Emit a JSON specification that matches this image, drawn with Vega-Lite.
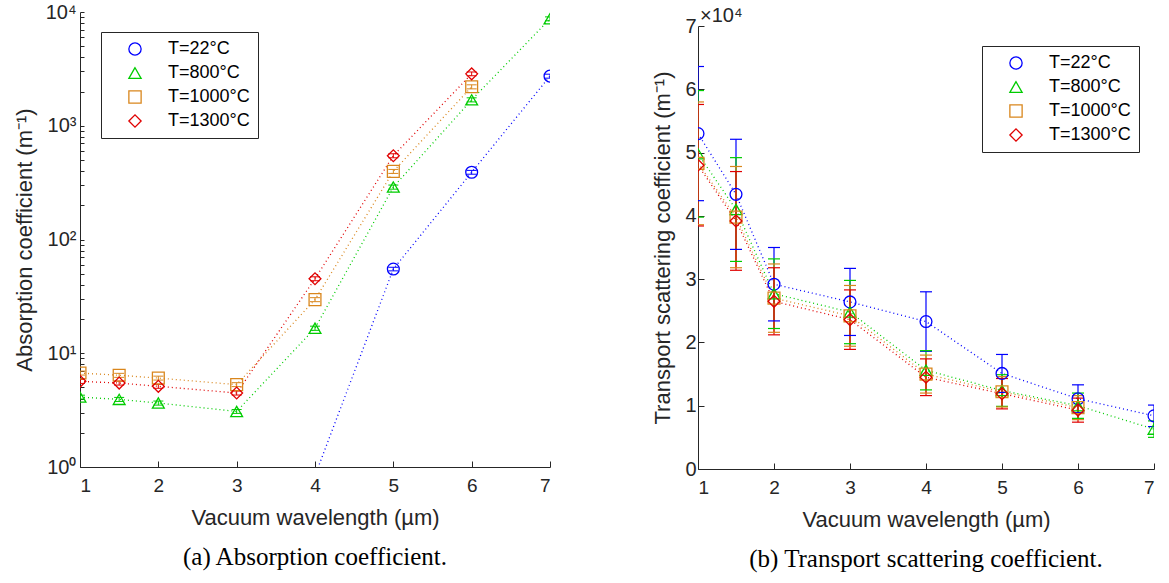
{
  "$schema": "https://vega.github.io/schema/vega-lite/v6.json",
  "background": "white",
  "padding": {"left": 13, "top": 2, "right": 3, "bottom": 5},
  "spacing": 148,
  "bounds": "flush",
  "resolve": {"scale": {"color": "independent", "shape": "independent"}, "legend": {"color": "independent", "shape": "independent"}},
  "config": {
    "font": "Liberation Sans",
    "view": {"stroke": null},
    "axis": {
      "domainColor": "#262626", "tickColor": "#262626", "labelColor": "#262626", "titleColor": "#262626",
      "labelFontSize": 19, "titleFontSize": 22, "titleFontWeight": "normal", "grid": false,
      "tickSize": -6, "domainWidth": 1, "tickWidth": 1
    },
    "legend": {
      "labelFontSize": 18, "labelColor": "#000000", "strokeColor": "#262626", "fillColor": "white",
      "padding": 8, "rowPadding": 6, "symbolStrokeWidth": 1.3, "symbolSize": 150, "symbolOffset": 17,
      "labelOffset": 24, "title": null
    },
    "title": {"font": "Liberation Serif", "fontWeight": "normal", "fontSize": 25, "color": "#000000"}
  },
  "datasets": {
    "abs": [
      {"wl": 4, "T": "T=22°C", "v": 0.84, "lo": 0.81, "hi": 0.87},
      {"wl": 5, "T": "T=22°C", "v": 55, "lo": 53, "hi": 57},
      {"wl": 6, "T": "T=22°C", "v": 390, "lo": 375, "hi": 405},
      {"wl": 7, "T": "T=22°C", "v": 2730, "lo": 2620, "hi": 2840},
      {"wl": 1, "T": "T=800°C", "v": 4.12, "lo": 3.96, "hi": 4.28},
      {"wl": 1.5, "T": "T=800°C", "v": 3.93, "lo": 3.77, "hi": 4.09},
      {"wl": 2, "T": "T=800°C", "v": 3.65, "lo": 3.5, "hi": 3.8},
      {"wl": 3, "T": "T=800°C", "v": 3.08, "lo": 2.96, "hi": 3.2},
      {"wl": 4, "T": "T=800°C", "v": 16.6, "lo": 15.9, "hi": 17.3},
      {"wl": 5, "T": "T=800°C", "v": 289, "lo": 277, "hi": 301},
      {"wl": 6, "T": "T=800°C", "v": 1690, "lo": 1620, "hi": 1760},
      {"wl": 7, "T": "T=800°C", "v": 8710, "lo": 8360, "hi": 9060},
      {"wl": 1, "T": "T=1000°C", "v": 6.7, "lo": 6.43, "hi": 6.97},
      {"wl": 1.5, "T": "T=1000°C", "v": 6.4, "lo": 6.14, "hi": 6.66},
      {"wl": 2, "T": "T=1000°C", "v": 6.05, "lo": 5.81, "hi": 6.29},
      {"wl": 3, "T": "T=1000°C", "v": 5.3, "lo": 5.09, "hi": 5.51},
      {"wl": 4, "T": "T=1000°C", "v": 29.6, "lo": 28.4, "hi": 30.8},
      {"wl": 5, "T": "T=1000°C", "v": 397, "lo": 381, "hi": 413},
      {"wl": 6, "T": "T=1000°C", "v": 2200, "lo": 2110, "hi": 2290},
      {"wl": 1, "T": "T=1300°C", "v": 5.66, "lo": 5.43, "hi": 5.89},
      {"wl": 1.5, "T": "T=1300°C", "v": 5.47, "lo": 5.25, "hi": 5.69},
      {"wl": 2, "T": "T=1300°C", "v": 5.12, "lo": 4.92, "hi": 5.32},
      {"wl": 3, "T": "T=1300°C", "v": 4.47, "lo": 4.29, "hi": 4.65},
      {"wl": 4, "T": "T=1300°C", "v": 45.2, "lo": 43.4, "hi": 47},
      {"wl": 5, "T": "T=1300°C", "v": 545, "lo": 523, "hi": 567},
      {"wl": 6, "T": "T=1300°C", "v": 2860, "lo": 2750, "hi": 2970}
    ],
    "sca": [
      {"wl": 1, "T": "T=22°C", "v": 53000, "lo": 42400, "hi": 63600},
      {"wl": 1.5, "T": "T=22°C", "v": 43400, "lo": 34700, "hi": 52100},
      {"wl": 2, "T": "T=22°C", "v": 29200, "lo": 23400, "hi": 35000},
      {"wl": 3, "T": "T=22°C", "v": 26400, "lo": 21100, "hi": 31700},
      {"wl": 4, "T": "T=22°C", "v": 23300, "lo": 18600, "hi": 28000},
      {"wl": 5, "T": "T=22°C", "v": 15100, "lo": 12100, "hi": 18100},
      {"wl": 6, "T": "T=22°C", "v": 11100, "lo": 8900, "hi": 13300},
      {"wl": 7, "T": "T=22°C", "v": 8400, "lo": 6700, "hi": 10100},
      {"wl": 1, "T": "T=800°C", "v": 49800, "lo": 39800, "hi": 59800},
      {"wl": 1.5, "T": "T=800°C", "v": 41000, "lo": 32800, "hi": 49200},
      {"wl": 2, "T": "T=800°C", "v": 27700, "lo": 22200, "hi": 33200},
      {"wl": 3, "T": "T=800°C", "v": 24800, "lo": 19800, "hi": 29800},
      {"wl": 4, "T": "T=800°C", "v": 15600, "lo": 12500, "hi": 18700},
      {"wl": 5, "T": "T=800°C", "v": 12400, "lo": 9900, "hi": 14900},
      {"wl": 6, "T": "T=800°C", "v": 10000, "lo": 8000, "hi": 12000},
      {"wl": 7, "T": "T=800°C", "v": 6300, "lo": 5000, "hi": 7600},
      {"wl": 1, "T": "T=1000°C", "v": 48300, "lo": 38600, "hi": 58000},
      {"wl": 1.5, "T": "T=1000°C", "v": 39800, "lo": 31800, "hi": 47800},
      {"wl": 2, "T": "T=1000°C", "v": 27000, "lo": 21600, "hi": 32400},
      {"wl": 3, "T": "T=1000°C", "v": 24200, "lo": 19400, "hi": 29000},
      {"wl": 4, "T": "T=1000°C", "v": 15000, "lo": 12000, "hi": 18000},
      {"wl": 5, "T": "T=1000°C", "v": 12200, "lo": 9800, "hi": 14600},
      {"wl": 6, "T": "T=1000°C", "v": 9700, "lo": 7800, "hi": 11600},
      {"wl": 1, "T": "T=1300°C", "v": 48000, "lo": 38400, "hi": 57600},
      {"wl": 1.5, "T": "T=1300°C", "v": 39200, "lo": 31400, "hi": 47000},
      {"wl": 2, "T": "T=1300°C", "v": 26500, "lo": 21200, "hi": 31800},
      {"wl": 3, "T": "T=1300°C", "v": 23600, "lo": 18900, "hi": 28300},
      {"wl": 4, "T": "T=1300°C", "v": 14500, "lo": 11600, "hi": 17400},
      {"wl": 5, "T": "T=1300°C", "v": 11900, "lo": 9500, "hi": 14300},
      {"wl": 6, "T": "T=1300°C", "v": 9300, "lo": 7400, "hi": 11200}
    ],
    "mult": [{"x": 1, "y": 70000, "t": "×10⁴"}]
  },
  "hconcat": [
    {
      "width": 470, "height": 455,
      "title": {"text": "(a) Absorption coefficient.", "orient": "bottom", "offset": 17},
      "data": {"name": "abs"},
      "encoding": {
        "x": {"field": "wl", "type": "quantitative", "scale": {"domain": [1, 7]},
              "axis": {"values": [1, 2, 3, 4, 5, 6, 7], "title": "Vacuum wavelength (µm)", "labelPadding": 15, "titlePadding": 12}},
        "color": {"field": "T", "type": "nominal",
                  "scale": {"domain": ["T=22°C", "T=800°C", "T=1000°C", "T=1300°C"], "range": ["#0000ff", "#00cc00", "#d9861c", "#e00000"]},
                  "legend": {"orient": "none", "legendX": 21, "legendY": 20}}
      },
      "layer": [
        {"mark": {"type": "line", "strokeDash": [1, 3], "strokeWidth": 1.3, "clip": true},
         "encoding": {"y": {"field": "v", "type": "quantitative", "title": "Absorption coefficient (m⁻¹)",
                            "scale": {"type": "log", "domain": [1, 10000]},
                            "axis": {"values": [1, 2, 3, 4, 5, 6, 7, 8, 9, 10, 20, 30, 40, 50, 60, 70, 80, 90, 100, 200, 300, 400, 500, 600, 700, 800, 900, 1000, 2000, 3000, 4000, 5000, 6000, 7000, 8000, 9000, 10000],
                                     "labelExpr": "datum.value == 1 ? '10⁰' : datum.value == 10 ? '10¹' : datum.value == 100 ? '10²' : datum.value == 1000 ? '10³' : datum.value == 10000 ? '10⁴' : ''",
                                     "labelFontSize": 20, "tickSize": -4, "labelPadding": 8, "titlePadding": 9}}}},
        {"mark": {"type": "rule", "strokeWidth": 1, "clip": true},
         "encoding": {"y": {"field": "lo", "type": "quantitative", "title": "Absorption coefficient (m⁻¹)", "scale": {"type": "log", "domain": [1, 10000]}}, "y2": {"field": "hi"}}},
        {"mark": {"type": "point", "shape": "stroke", "filled": false, "size": 100, "strokeWidth": 1, "opacity": 1, "clip": true},
         "encoding": {"y": {"field": "lo", "type": "quantitative", "title": "Absorption coefficient (m⁻¹)", "scale": {"type": "log", "domain": [1, 10000]}}}},
        {"mark": {"type": "point", "shape": "stroke", "filled": false, "size": 100, "strokeWidth": 1, "opacity": 1, "clip": true},
         "encoding": {"y": {"field": "hi", "type": "quantitative", "title": "Absorption coefficient (m⁻¹)", "scale": {"type": "log", "domain": [1, 10000]}}}},
        {"mark": {"type": "point", "filled": false, "size": 140, "strokeWidth": 1.3, "opacity": 1, "clip": true},
         "encoding": {"y": {"field": "v", "type": "quantitative", "title": "Absorption coefficient (m⁻¹)", "scale": {"type": "log", "domain": [1, 10000]}},
                      "shape": {"field": "T", "type": "nominal",
                                "scale": {"domain": ["T=22°C", "T=800°C", "T=1000°C", "T=1300°C"], "range": ["circle", "triangle-up", "square", "diamond"]},
                                "legend": {"orient": "none", "legendX": 21, "legendY": 20}}}}
      ]
    },
    {
      "width": 456, "height": 457,
      "title": {"text": "(b) Transport scattering coefficient.", "orient": "bottom", "offset": 17},
      "encoding": {
        "x": {"field": "wl", "type": "quantitative", "scale": {"domain": [1, 7]},
              "axis": {"values": [1, 2, 3, 4, 5, 6, 7], "title": "Vacuum wavelength (µm)", "labelPadding": 15, "titlePadding": 12}},
        "color": {"field": "T", "type": "nominal",
                  "scale": {"domain": ["T=22°C", "T=800°C", "T=1000°C", "T=1300°C"], "range": ["#0000ff", "#00cc00", "#d9861c", "#e00000"]},
                  "legend": {"orient": "none", "legendX": 284, "legendY": 34}}
      },
      "layer": [
        {"data": {"name": "sca"},
         "mark": {"type": "line", "strokeDash": [1, 3], "strokeWidth": 1.3, "clip": true},
         "encoding": {"y": {"field": "v", "type": "quantitative", "title": "Transport scattering coefficient (m⁻¹)",
                            "scale": {"domain": [0, 70000], "range": [457, 14]},
                            "axis": {"values": [0, 10000, 20000, 30000, 40000, 50000, 60000, 70000],
                                     "labelExpr": "format(datum.value / 10000, 'd')", "labelFontSize": 20, "labelPadding": 8, "titlePadding": 10}}}},
        {"data": {"name": "sca"},
         "mark": {"type": "rule", "strokeWidth": 1.2, "clip": true},
         "encoding": {"y": {"field": "lo", "type": "quantitative", "title": "Transport scattering coefficient (m⁻¹)", "scale": {"domain": [0, 70000], "range": [457, 14]}}, "y2": {"field": "hi"}}},
        {"data": {"name": "sca"},
         "mark": {"type": "point", "shape": "stroke", "filled": false, "size": 144, "strokeWidth": 1.2, "opacity": 1, "clip": true},
         "encoding": {"y": {"field": "lo", "type": "quantitative", "title": "Transport scattering coefficient (m⁻¹)", "scale": {"domain": [0, 70000], "range": [457, 14]}}}},
        {"data": {"name": "sca"},
         "mark": {"type": "point", "shape": "stroke", "filled": false, "size": 144, "strokeWidth": 1.2, "opacity": 1, "clip": true},
         "encoding": {"y": {"field": "hi", "type": "quantitative", "title": "Transport scattering coefficient (m⁻¹)", "scale": {"domain": [0, 70000], "range": [457, 14]}}}},
        {"data": {"name": "sca"},
         "mark": {"type": "point", "filled": false, "size": 140, "strokeWidth": 1.3, "opacity": 1, "clip": true},
         "encoding": {"y": {"field": "v", "type": "quantitative", "title": "Transport scattering coefficient (m⁻¹)", "scale": {"domain": [0, 70000], "range": [457, 14]}},
                      "shape": {"field": "T", "type": "nominal",
                                "scale": {"domain": ["T=22°C", "T=800°C", "T=1000°C", "T=1300°C"], "range": ["circle", "triangle-up", "square", "diamond"]},
                                "legend": {"orient": "none", "legendX": 284, "legendY": 34}}}},
        {"data": {"name": "mult"},
         "mark": {"type": "text", "align": "left", "baseline": "alphabetic", "dx": 2, "dy": -4, "fontSize": 20},
         "encoding": {"x": {"field": "x", "type": "quantitative"}, "y": {"field": "y", "type": "quantitative"}, "text": {"field": "t"}, "color": {"value": "#262626"}, "size": {"value": 20}}}
      ]
    }
  ]
}
